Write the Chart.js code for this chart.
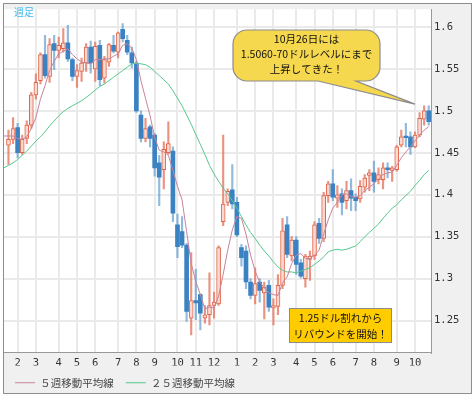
<!DOCTYPE html>
<html><head><meta charset="utf-8">
<script src="https://cdn.jsdelivr.net/npm/chart.js@4.4.1/dist/chart.umd.min.js"></script>
<style>html,body{margin:0;padding:0;background:#fff;}canvas{display:block;}</style>
</head><body>
<canvas id="c" width="476" height="398"></canvas>
<script>
// ---- categories: weekly bars (YY/M/D, week start) ----
const weeks = ['08/1/14','08/1/21','08/1/28','08/2/4','08/2/11','08/2/18','08/2/25','08/3/3','08/3/10','08/3/17','08/3/24','08/3/31','08/4/7','08/4/14','08/4/21','08/4/28','08/5/5','08/5/12','08/5/19','08/5/26','08/6/2','08/6/9','08/6/16','08/6/23','08/6/30','08/7/7','08/7/14','08/7/21','08/7/28','08/8/4','08/8/11','08/8/18','08/8/25','08/9/1','08/9/8','08/9/15','08/9/22','08/9/29','08/10/6','08/10/13','08/10/20','08/10/27','08/11/3','08/11/10','08/11/17','08/11/24','08/12/1','08/12/8','08/12/15','08/12/22','08/12/29',
'09/1/5','09/1/12','09/1/19','09/1/26','09/2/2','09/2/9','09/2/16','09/2/23','09/3/2','09/3/9','09/3/16','09/3/23','09/3/30','09/4/6','09/4/13','09/4/20','09/4/27','09/5/4','09/5/11','09/5/18','09/5/25','09/6/1','09/6/8','09/6/15','09/6/22','09/6/29','09/7/6','09/7/13','09/7/20','09/7/27','09/8/3','09/8/10','09/8/17','09/8/24','09/8/31','09/9/7','09/9/14','09/9/21','09/9/28','09/10/5','09/10/12','09/10/19','09/10/26'];

// ---- candle values ----
const open = [null,1.459,1.466,1.480,1.450,1.467,1.483,1.519,1.536,1.567,1.541,1.580,1.572,1.574,1.581,1.561,1.541,1.547,1.557,1.576,1.550,1.578,1.539,1.558,1.578,1.570,1.597,1.584,1.569,1.556,1.495,1.467,1.481,1.471,1.438,1.430,1.450,1.452,1.364,1.356,1.340,1.253,1.274,1.281,1.253,1.257,1.268,1.270,1.368,1.391,1.406,1.391,1.337,1.333,1.296,1.280,1.296,1.283,1.292,1.265,1.267,1.292,1.364,1.327,1.346,1.319,1.300,1.323,1.327,1.366,1.348,1.399,1.413,1.396,1.401,1.393,1.405,1.397,1.395,1.409,1.423,1.426,1.418,1.418,1.432,1.429,1.430,1.459,1.470,1.469,1.457,1.471,1.490,1.500];
const high = [null,1.477,1.492,1.485,1.471,1.488,1.522,1.544,1.569,1.590,1.586,1.590,1.588,1.598,1.602,1.563,1.555,1.563,1.580,1.583,1.582,1.584,1.565,1.580,1.590,1.594,1.604,1.590,1.576,1.559,1.500,1.491,1.483,1.473,1.447,1.463,1.487,1.457,1.377,1.374,1.342,1.331,1.311,1.282,1.268,1.307,1.284,1.339,1.471,1.407,1.436,1.397,1.341,1.339,1.300,1.313,1.300,1.296,1.298,1.276,1.305,1.372,1.374,1.350,1.350,1.323,1.329,1.333,1.368,1.372,1.403,1.416,1.430,1.411,1.407,1.416,1.419,1.401,1.417,1.424,1.430,1.440,1.432,1.438,1.438,1.434,1.459,1.477,1.485,1.475,1.475,1.498,1.506,1.506];
const low = [null,1.436,1.461,1.444,1.448,1.461,1.479,1.514,1.532,1.539,1.534,1.549,1.563,1.570,1.559,1.536,1.528,1.535,1.547,1.545,1.535,1.530,1.533,1.553,1.569,1.563,1.582,1.567,1.551,1.498,1.463,1.463,1.457,1.422,1.387,1.407,1.448,1.368,1.325,1.337,1.249,1.233,1.251,1.239,1.247,1.245,1.253,1.268,1.363,1.387,1.383,1.350,1.315,1.288,1.276,1.270,1.272,1.252,1.261,1.245,1.257,1.288,1.325,1.321,1.305,1.301,1.290,1.298,1.323,1.342,1.344,1.391,1.393,1.385,1.376,1.383,1.381,1.381,1.391,1.403,1.405,1.403,1.413,1.407,1.420,1.416,1.428,1.457,1.457,1.448,1.456,1.469,1.483,1.483];
const close = [null,1.466,1.479,1.450,1.466,1.483,1.519,1.534,1.567,1.542,1.579,1.572,1.578,1.581,1.562,1.541,1.548,1.557,1.576,1.557,1.577,1.537,1.561,1.579,1.571,1.593,1.586,1.570,1.557,1.500,1.467,1.479,1.467,1.432,1.421,1.454,1.461,1.378,1.338,1.340,1.261,1.274,1.271,1.259,1.257,1.268,1.272,1.337,1.389,1.404,1.389,1.352,1.325,1.296,1.280,1.294,1.286,1.290,1.266,1.268,1.292,1.357,1.329,1.346,1.317,1.303,1.327,1.327,1.364,1.348,1.399,1.413,1.397,1.400,1.391,1.405,1.396,1.393,1.410,1.420,1.426,1.416,1.424,1.432,1.430,1.432,1.457,1.469,1.468,1.457,1.471,1.491,1.500,1.487];

// ---- moving averages ----
const ma5 = [1.470,1.470,1.470,1.467,1.466,1.469,1.479,1.492,1.514,1.530,1.548,1.559,1.568,1.571,1.574,1.567,1.562,1.558,1.557,1.556,1.561,1.561,1.562,1.562,1.565,1.568,1.578,1.580,1.575,1.561,1.536,1.515,1.494,1.469,1.453,1.451,1.447,1.429,1.410,1.394,1.356,1.318,1.297,1.281,1.264,1.266,1.265,1.279,1.305,1.334,1.358,1.374,1.372,1.353,1.328,1.309,1.296,1.289,1.283,1.281,1.280,1.295,1.302,1.318,1.328,1.330,1.324,1.324,1.328,1.334,1.353,1.370,1.384,1.391,1.400,1.401,1.398,1.397,1.399,1.405,1.409,1.413,1.419,1.424,1.426,1.427,1.435,1.444,1.451,1.457,1.464,1.471,1.477,1.481];
const ma25 = [1.432,1.435,1.438,1.442,1.447,1.452,1.458,1.464,1.469,1.475,1.482,1.488,1.494,1.499,1.503,1.506,1.509,1.512,1.516,1.520,1.525,1.529,1.532,1.536,1.540,1.544,1.548,1.552,1.556,1.557,1.556,1.555,1.552,1.547,1.542,1.537,1.532,1.524,1.515,1.506,1.495,1.484,1.472,1.460,1.448,1.435,1.425,1.416,1.408,1.401,1.393,1.384,1.374,1.364,1.355,1.348,1.340,1.333,1.327,1.320,1.314,1.310,1.308,1.308,1.307,1.309,1.311,1.313,1.317,1.321,1.326,1.332,1.334,1.335,1.334,1.335,1.337,1.339,1.344,1.350,1.355,1.360,1.365,1.372,1.378,1.384,1.388,1.394,1.399,1.404,1.411,1.417,1.424,1.429];

const yTicks = [1.25,1.3,1.35,1.4,1.45,1.5,1.55,1.6];
const seriesNames = ['５週移動平均線','２５週移動平均線'];
const periodLabel = '週足';
const note1 = ['10月26日には','1.5060-70ドルレベルにまで','上昇してきた！'];
const note1Tip = {week:'09/10/5', value:1.508};
const note2 = ['1.25ドル割れから','リバウンドを開始！'];

// month tick labels: first week (Monday) of each month
const monthTicks = [];
weeks.forEach((w,i)=>{const p=w.split('/'); if(+p[2]<=7) monthTicks.push({i, label:String(+p[1])});});
const tickLabel = {}; monthTicks.forEach(t=>tickLabel[t.i]=t.label);

const up = weeks.map((w,i)=>open[i]!=null && close[i]>=open[i]);
const idx = weeks.map((w,i)=>i).filter(i=>open[i]!=null);

const UP_LINE='#e0664a', UP_FILL='#fbd8d0', DN='#3b82c3';
const JP = '"Noto Sans CJK JP", "Noto Sans CJK SC", sans-serif';
const MONO = '"DejaVu Sans Mono", monospace';

const deco = {
  id:'deco',
  beforeDraw(chart){
    const {ctx, chartArea:a} = chart;
    ctx.save();
    ctx.fillStyle='#ffffff'; ctx.fillRect(0,0,chart.width,chart.height);
    ctx.fillStyle='#f0f0f0'; ctx.fillRect(3,3,469,391);
    ctx.fillStyle='#ffffff'; ctx.fillRect(a.left,a.top,a.right-a.left,a.bottom-a.top);
    ctx.restore();
  },
  afterDatasetsDraw(chart){
    const {ctx, scales:{x,y}} = chart;
    ctx.save();
    // period label
    ctx.font = '10px '+JP; ctx.fillStyle='#3cb8ee'; ctx.textAlign='left'; ctx.textBaseline='middle';
    ctx.fillText(periodLabel, 14, 12);
    // speech bubble
    const L=233,T=30,R=380,B=81,r=14;
    const tx = x.getPixelForValue(weeks.indexOf(note1Tip.week)), ty = y.getPixelForValue(note1Tip.value);
    ctx.beginPath();
    ctx.moveTo(L+r,T); ctx.lineTo(R-r,T); ctx.arcTo(R,T,R,T+r,r);
    ctx.lineTo(R,B-r); ctx.arcTo(R,B,R-r,B,r);
    ctx.lineTo(356,B); ctx.lineTo(tx,ty); ctx.lineTo(318,B);
    ctx.lineTo(L+r,B); ctx.arcTo(L,B,L,B-r,r);
    ctx.lineTo(L,T+r); ctx.arcTo(L,T,L+r,T,r); ctx.closePath();
    ctx.fillStyle='#f6d84e'; ctx.fill();
    ctx.lineWidth=1.2; ctx.strokeStyle='#8c8c8c'; ctx.stroke();
    ctx.font='10.5px '+JP; ctx.fillStyle='#111'; ctx.textAlign='center'; ctx.textBaseline='middle';
    note1.forEach((s,k)=>ctx.fillText(s, 306.5, 39.5+k*15));
    // box
    ctx.fillStyle='#ffcc00'; ctx.fillRect(289,308.5,102.5,34.5);
    ctx.lineWidth=1; ctx.strokeStyle='#8c8c8c'; ctx.strokeRect(289.5,308.5,102,34);
    ctx.fillStyle='#111';
    note2.forEach((s,k)=>ctx.fillText(s, 340.5, 318+k*16.5));
    ctx.restore();
  },
  afterDraw(chart){
    const {ctx} = chart;
    ctx.save();
    ctx.strokeStyle='#8e8e8e'; ctx.lineWidth=1;
    ctx.strokeRect(3.5,3.5,468,390);
    ctx.restore();
  }
};

new Chart(document.getElementById('c'), {
  type:'bar',
  data:{
    datasets:[
      {type:'line', label:seriesNames[0], data:weeks.map((w,i)=>({x:i,y:ma5[i]})), borderColor:'#c7839c', backgroundColor:'#c7839c', borderWidth:1, pointRadius:0, tension:0, order:0},
      {type:'line', label:seriesNames[1], data:weeks.map((w,i)=>({x:i,y:ma25[i]})), borderColor:'#56c78c', backgroundColor:'#56c78c', borderWidth:1, pointRadius:0, tension:0, order:0},
      {type:'bar', data:idx.map(i=>({x:i,y:[open[i],close[i]]})),
        backgroundColor:idx.map(i=>up[i]?UP_FILL:DN), borderColor:idx.map(i=>up[i]?UP_LINE:DN),
        borderWidth:idx.map(i=>up[i]?1:0), borderSkipped:false, barThickness:4, minBarLength:1, grouped:false, order:1},
      {type:'bar', data:idx.map(i=>({x:i,y:[low[i],high[i]]})),
        backgroundColor:idx.map(i=>up[i]?'rgba(228,110,85,0.75)':'rgba(70,140,200,0.6)'),
        borderWidth:0, barThickness:1.5, grouped:false, order:2}
    ]
  },
  options:{
    responsive:false, animation:false, devicePixelRatio:1, events:[],
    layout:{padding:{left:3,top:3,right:4,bottom:0}},
    scales:{
      x:{type:'linear', min:-0.2, max:93.5, offset:false,
        afterBuildTicks:(s)=>{s.ticks = monthTicks.map(t=>({value:t.i}));},
        afterFit:(s)=>{s.height=13;},
        grid:{color:'#eaeaea', lineWidth:2, drawTicks:false, offset:false},
        border:{display:true, color:'#999', width:1},
        ticks:{autoSkip:false, maxRotation:0, padding:4, color:'#333', font:{family:MONO,size:10.5},
          callback:(v)=>tickLabel[v]??''}
      },
      y:{type:'linear', position:'right', min:1.212, max:1.621,
        afterBuildTicks:(s)=>{s.ticks = yTicks.map(v=>({value:v}));},
        afterFit:(s)=>{s.width=41;},
        grid:{color:'#eaeaea', lineWidth:2, drawTicks:false},
        border:{display:true, color:'#999', width:1},
        ticks:{padding:3, color:'#333', font:{family:MONO,size:10.5}, callback:(v)=>String(v)}
      }
    },
    plugins:{
      legend:{display:true, position:'bottom', align:'start',
        labels:{usePointStyle:true, pointStyle:'line', pointStyleWidth:20, padding:12, color:'#444',
          font:{family:JP,size:10.5}, filter:(item)=>item.datasetIndex<2}},
      tooltip:{enabled:false}
    }
  },
  plugins:[deco]
});
</script>
</body></html>
